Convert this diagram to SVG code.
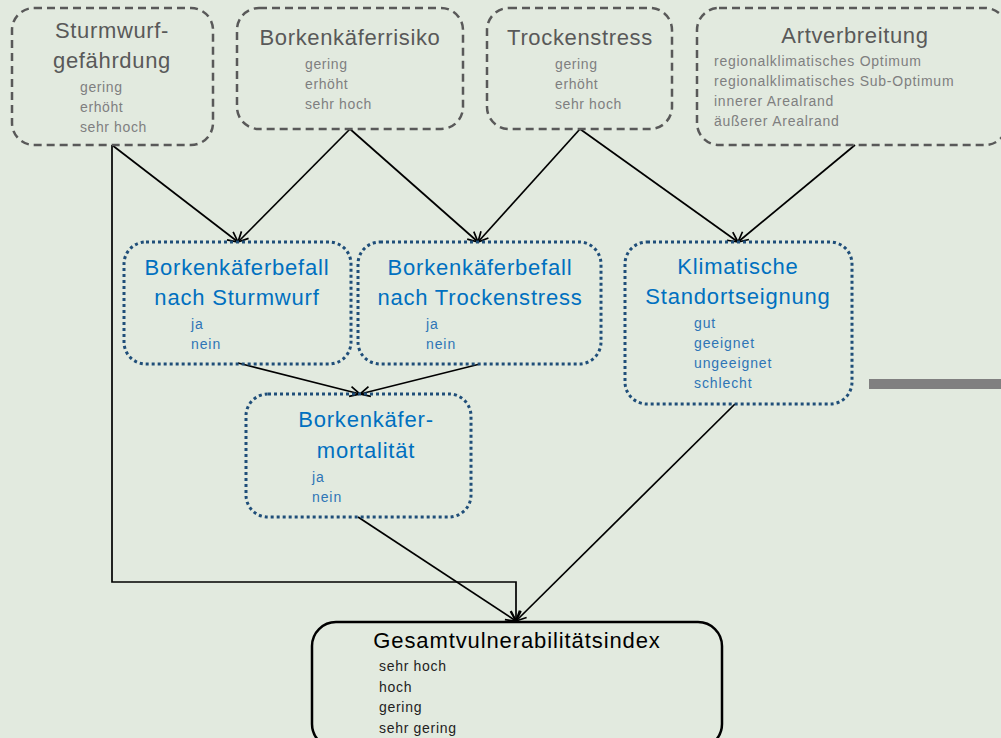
<svg xmlns="http://www.w3.org/2000/svg" width="1001" height="738" viewBox="0 0 1001 738">
<style>
.dash{fill:none;stroke:#595959;stroke-width:2.5;stroke-dasharray:8 5}
.dot{fill:none;stroke:#1f4e79;stroke-width:3;stroke-dasharray:3 3}
.solid{fill:none;stroke:#000;stroke-width:2.5}
.t1{font-family:"Liberation Sans",Arial,sans-serif;font-size:22px;letter-spacing:0.65px;fill:#595959;text-anchor:middle}
.s1{font-family:"Liberation Sans",Arial,sans-serif;font-size:14px;letter-spacing:0.6px;fill:#7f7f7f}
.t2{font-family:"Liberation Sans",Arial,sans-serif;font-size:22px;letter-spacing:0.8px;fill:#0070c0;text-anchor:middle}
.s2{font-family:"Liberation Sans",Arial,sans-serif;font-size:14px;letter-spacing:0.9px;fill:#2e75b6}
.t3{font-family:"Liberation Sans",Arial,sans-serif;font-size:22px;letter-spacing:0.9px;fill:#000;text-anchor:middle}
.s3{font-family:"Liberation Sans",Arial,sans-serif;font-size:14px;letter-spacing:0.7px;fill:#222}
.c{fill:none;stroke:#000;stroke-width:1.7}
</style>
<defs>
<marker id="ah" viewBox="0 0 12 12" refX="11" refY="6" markerWidth="12" markerHeight="12" markerUnits="userSpaceOnUse" orient="auto">
<path d="M1,1 L11,6 L1,11" fill="none" stroke="#000" stroke-width="1.7"/>
</marker>
</defs>
<rect width="1001" height="738" fill="#e2eadf"/>
<rect x="869" y="379" width="132" height="10" fill="#808080"/>

<g id="connectors">
<line class="c" x1="112" y1="145" x2="238" y2="242" marker-end="url(#ah)"/>
<line class="c" x1="350" y1="129" x2="238" y2="242" marker-end="url(#ah)"/>
<line class="c" x1="350" y1="129" x2="478" y2="242" marker-end="url(#ah)"/>
<line class="c" x1="580" y1="129" x2="478" y2="242" marker-end="url(#ah)"/>
<line class="c" x1="580" y1="129" x2="738" y2="242" marker-end="url(#ah)"/>
<line class="c" x1="855" y1="145" x2="738" y2="242" marker-end="url(#ah)"/>
<polyline class="c" points="112,145 112,582 516,582 516,621" marker-end="url(#ah)"/>
<line class="c" x1="238" y1="363" x2="360" y2="394" marker-end="url(#ah)"/>
<line class="c" x1="480" y1="364" x2="360" y2="394" marker-end="url(#ah)"/>
<line class="c" x1="358" y1="517" x2="516" y2="621" marker-end="url(#ah)"/>
<line class="c" x1="735" y1="404" x2="516" y2="621" marker-end="url(#ah)"/>
</g>

<g id="sturmwurf">
<rect class="dash" x="12" y="8" width="201" height="137" rx="22"/>
<text class="t1" x="112" y="38">Sturmwurf-</text>
<text class="t1" x="112" y="68">gefährdung</text>
<text class="s1" x="80" y="92">gering</text>
<text class="s1" x="80" y="112">erhöht</text>
<text class="s1" x="80" y="132">sehr hoch</text>
</g>

<g id="borkenkaeferrisiko">
<rect class="dash" x="237" y="8" width="226" height="121" rx="22"/>
<text class="t1" x="350" y="45">Borkenkäferrisiko</text>
<text class="s1" x="305" y="69">gering</text>
<text class="s1" x="305" y="89">erhöht</text>
<text class="s1" x="305" y="109">sehr hoch</text>
</g>

<g id="trockenstress">
<rect class="dash" x="487" y="8" width="185" height="121" rx="22"/>
<text class="t1" x="580" y="45">Trockenstress</text>
<text class="s1" x="555" y="69">gering</text>
<text class="s1" x="555" y="89">erhöht</text>
<text class="s1" x="555" y="109">sehr hoch</text>
</g>

<g id="artverbreitung">
<rect class="dash" x="697" y="8" width="310" height="137" rx="22"/>
<text class="t1" x="855" y="43">Artverbreitung</text>
<text class="s1" x="714" y="66" style="letter-spacing:0.75px">regionalklimatisches Optimum</text>
<text class="s1" x="714" y="86" style="letter-spacing:0.75px">regionalklimatisches Sub-Optimum</text>
<text class="s1" x="714" y="106" style="letter-spacing:0.75px">innerer Arealrand</text>
<text class="s1" x="714" y="126" style="letter-spacing:0.75px">äußerer Arealrand</text>
</g>

<g id="befall-sturmwurf">
<rect class="dot" x="124" y="242" width="227" height="122" rx="22"/>
<text class="t2" x="237" y="275">Borkenkäferbefall</text>
<text class="t2" x="237" y="305">nach Sturmwurf</text>
<text class="s2" x="191" y="329">ja</text>
<text class="s2" x="191" y="349">nein</text>
</g>

<g id="befall-trockenstress">
<rect class="dot" x="358" y="242" width="243" height="122" rx="22"/>
<text class="t2" x="480" y="275">Borkenkäferbefall</text>
<text class="t2" x="480" y="305">nach Trockenstress</text>
<text class="s2" x="426" y="329">ja</text>
<text class="s2" x="426" y="349">nein</text>
</g>

<g id="klimatische-standortseignung">
<rect class="dot" x="625" y="242" width="227" height="162" rx="22"/>
<text class="t2" x="738" y="274">Klimatische</text>
<text class="t2" x="738" y="304">Standortseignung</text>
<text class="s2" x="694" y="328">gut</text>
<text class="s2" x="694" y="348">geeignet</text>
<text class="s2" x="694" y="368">ungeeignet</text>
<text class="s2" x="694" y="388">schlecht</text>
</g>

<g id="mortalitaet">
<rect class="dot" x="246" y="394" width="225" height="123" rx="22"/>
<text class="t2" x="366" y="427">Borkenkäfer-</text>
<text class="t2" x="366" y="458">mortalität</text>
<text class="s2" x="312" y="482">ja</text>
<text class="s2" x="312" y="502">nein</text>
</g>

<g id="gesamtvulnerabilitaetsindex">
<rect class="solid" x="312" y="622" width="410" height="126" rx="24"/>
<text class="t3" x="517" y="648">Gesamtvulnerabilitätsindex</text>
<text class="s3" x="379" y="671">sehr hoch</text>
<text class="s3" x="379" y="692">hoch</text>
<text class="s3" x="379" y="712">gering</text>
<text class="s3" x="379" y="733">sehr gering</text>
</g>
</svg>
